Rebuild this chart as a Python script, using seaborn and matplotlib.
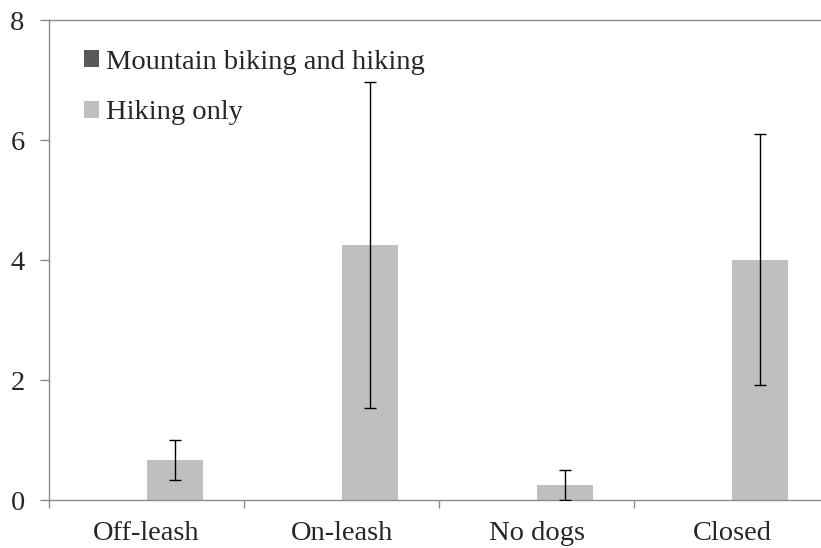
import matplotlib
matplotlib.use("Agg")
import matplotlib.pyplot as plt
from matplotlib.ticker import FixedLocator
import seaborn as sns
import pandas as pd

categories = ["Off-leash", "On-leash", "No dogs", "Closed"]
series = ["Mountain biking and hiking", "Hiking only"]
biking_vals = [0.0, 0.0, 0.0, 0.0]
hiking_vals = [0.67, 4.25, 0.25, 4.0]
hiking_lo = [0.33, 1.53, 0.0, 1.92]
hiking_hi = [1.0, 6.97, 0.5, 6.1]
yticks = [0, 2, 4, 6, 8]

colors = ["#595959", "#bfbfbf"]
axis_col = "#8c8c8c"
fs = 20.5

sns.set_style("white")
plt.rcParams["font.family"] = ["Liberation Serif", "DejaVu Serif"]

df = pd.DataFrame({
    "category": categories * 2,
    "series": [series[0]] * 4 + [series[1]] * 4,
    "value": biking_vals + hiking_vals,
})

fig = plt.figure(figsize=(8.21, 5.48), dpi=100)
ax = fig.add_axes([49 / 821, 48 / 548, 1 - 49 / 821, 480 / 548])

sns.barplot(data=df, x="category", y="value", hue="series", order=categories,
            hue_order=series, palette=colors, width=0.574, gap=0, errorbar=None,
            saturation=1, linewidth=0, ax=ax)

# error bars on the hiking bars
hiking_patches = sorted(ax.containers[1], key=lambda p: p.get_x())
xs = [p.get_x() + p.get_width() / 2 for p in hiking_patches]
lower = [v - lo for v, lo in zip(hiking_vals, hiking_lo)]
upper = [hi - v for v, hi in zip(hiking_vals, hiking_hi)]
ax.errorbar(xs, hiking_vals, yerr=[lower, upper], fmt="none", ecolor="black",
            elinewidth=1, capsize=4.5, capthick=1, zorder=5)

ax.set_xlim(-0.5, 3.456)
ax.set_ylim(0, 8)
ax.set_yticks(yticks)
ax.set_xlabel("")
ax.set_ylabel("")

for side in ["left", "bottom", "top"]:
    ax.spines[side].set_color(axis_col)
    ax.spines[side].set_linewidth(1)
ax.spines["right"].set_visible(False)

ax.xaxis.set_minor_locator(FixedLocator([-0.5, 0.5, 1.5, 2.5, 3.5]))
ax.tick_params(axis="x", which="major", length=0, pad=15, labelsize=fs)
ax.tick_params(axis="x", which="minor", length=6, width=1, color=axis_col, direction="out")
ax.tick_params(axis="y", length=6.5, width=1, color=axis_col, direction="out", pad=11, labelsize=fs)
ax.tick_params(bottom=True, left=True, which="both")

leg = ax.legend(loc="upper left", bbox_to_anchor=(0.03, 0.962), frameon=False,
                fontsize=fs, handlelength=0.55, handleheight=0.55, handletextpad=0.25,
                labelspacing=0.9, borderaxespad=0)

fig.savefig("out.png", dpi=100)
